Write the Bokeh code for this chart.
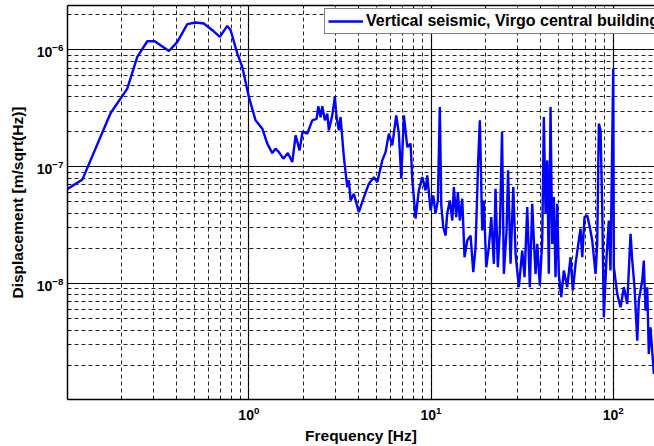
from bokeh.plotting import figure
from bokeh.models import Range1d, LogAxis, Legend, LegendItem
from bokeh.embed import file_html
from bokeh.resources import INLINE

# Frequency [Hz]
freq = [
    0.100, 0.122, 0.174, 0.215, 0.244, 0.277, 0.304, 0.364, 0.405, 0.459,
    0.510, 0.566, 0.630, 0.693, 0.761, 0.794, 0.864, 0.920, 1.000, 1.088,
    1.185, 1.262, 1.344, 1.401, 1.461, 1.545, 1.637, 1.731, 1.805, 1.898,
    1.971, 2.092, 2.228, 2.353, 2.404, 2.475, 2.529, 2.613, 2.693, 2.748,
    2.869, 2.965, 3.029, 3.119, 3.186, 3.322, 3.468, 3.539, 3.616, 3.770,
    4.015, 4.278, 4.557, 4.855, 5.067, 5.398, 5.628, 5.867, 6.124, 6.442,
    6.658, 6.862, 7.092, 7.404, 7.719, 7.886, 8.222, 8.570, 8.950, 9.330,
    9.53, 9.94, 10.28, 10.58, 10.90, 11.17, 11.38, 11.67, 12.01, 12.27,
    12.68, 13.08, 13.34, 13.75, 14.03, 14.39, 14.83, 15.27, 15.80, 16.48,
    17.05, 17.55, 18.16, 18.53, 19.10, 19.49, 20.09, 20.76, 21.40, 22.12,
    22.59, 23.26, 23.86, 24.53, 25.10, 25.97, 26.47, 27.32, 28.27, 29.10,
    30.34, 31.66, 32.60, 33.73, 34.86, 35.93, 36.67, 37.47, 38.28, 39.55,
    40.77, 41.61, 42.51, 43.43, 44.31, 45.28, 46.26, 47.21, 48.23, 49.28,
    50.28, 51.83, 53.56, 55.91, 58.30, 60.02, 62.10, 64.75, 66.15, 67.60,
    69.59, 72.00, 74.40, 76.70, 80.00, 81.70, 83.40, 85.20, 87.00, 88.80,
    91.90, 94.60, 96.60, 100.0, 100.8, 105.2, 109.7, 114.4, 119.4, 124.5,
    127.2, 130.9, 135.5, 138.2, 144.3, 147.2, 150.4, 153.7, 156.8, 160.2, 167.1,
]

# Displacement [m/sqrt(Hz)]
disp = [
    6.40e-8, 7.80e-8, 2.87e-7, 4.67e-7, 8.71e-7, 1.187e-6, 1.187e-6, 9.80e-7, 1.171e-6, 1.661e-6,
    1.717e-6, 1.684e-6, 1.475e-6, 1.292e-6, 1.606e-6, 1.475e-6, 9.31e-7, 7.15e-7, 3.96e-7, 2.497e-7,
    2.12e-7, 1.577e-7, 1.31e-7, 1.429e-7, 1.336e-7, 1.173e-7, 1.31e-7, 1.097e-7, 1.858e-7, 1.382e-7,
    2.011e-7, 1.921e-7, 2.497e-7, 2.573e-7, 3.293e-7, 2.650e-7, 3.293e-7, 2.497e-7, 2.851e-7, 2.051e-7,
    2.757e-7, 3.96e-7, 2.666e-7, 2.051e-7, 2.666e-7, 1.211e-7, 6.70e-8, 7.65e-8, 5.15e-8, 5.88e-8,
    4.09e-8, 5.50e-8, 7.16e-8, 8.16e-8, 7.39e-8, 1.134e-7, 1.336e-7, 1.921e-7, 1.525e-7, 2.757e-7,
    1.921e-7, 7.91e-8, 2.757e-7, 1.475e-7, 1.577e-7, 7.91e-8, 3.61e-8, 6.28e-8, 8.16e-8, 6.28e-8,
    8.44e-8, 4.23e-8, 5.69e-8, 3.99e-8, 5.15e-8, 3.25e-7, 4.67e-8, 3.04e-8, 2.58e-8, 3.99e-8,
    5.15e-8, 3.47e-8, 6.70e-8, 3.71e-8, 6.07e-8, 3.47e-8, 5.33e-8, 1.683e-8, 2.34e-8, 2.58e-8,
    1.252e-8, 2.05e-8, 1.173e-7, 2.497e-7, 2.85e-8, 5.15e-8, 1.382e-8, 2.05e-8, 3.71e-8, 1.478e-8,
    6.49e-8, 1.382e-8, 2.85e-8, 1.983e-7, 1.213e-8, 2.85e-8, 9.32e-8, 1.478e-8, 6.70e-8, 1.80e-8,
    9.32e-9, 1.92e-8, 1.134e-8, 4.52e-8, 9.32e-9, 4.83e-8, 2.34e-8, 1.213e-8, 2.19e-8, 9.63e-9,
    2.34e-8, 2.666e-7, 3.96e-8, 1.134e-7, 1.213e-8, 3.25e-7, 2.19e-8, 5.50e-8, 1.134e-8, 4.83e-8,
    1.213e-8, 7.65e-9, 1.295e-8, 9.32e-9, 1.683e-8, 8.73e-9, 1.478e-8, 2.34e-8, 2.95e-8, 1.683e-8,
    3.71e-8, 3.83e-8, 3.04e-8, 2.34e-8, 1.213e-8, 2.19e-8, 2.34e-7, 2.051e-7, 4.52e-8, 5.15e-9,
    1.683e-8, 3.47e-8, 1.295e-8, 6.93e-7, 1.382e-8, 8.18e-9, 6.28e-9, 9.32e-9, 6.71e-9, 2.67e-8,
    1.578e-8, 9.32e-9, 3.25e-9, 7.17e-9, 1.063e-8, 1.578e-8, 5.88e-9, 9.32e-9, 2.50e-9, 4.23e-9, 1.687e-9,
]

x_limits = [0.101, 168.5]
y_limits = [1.02e-9, 2.4e-6]
series_name = "Vertical seismic, Virgo central building"
x_label = "Frequency [Hz]"
y_label = "Displacement [m/sqrt(Hz)]"

FONT = "Liberation Sans"

p = figure(width=654, height=446, x_axis_type="log", y_axis_type="log",
           x_range=Range1d(*x_limits), y_range=Range1d(*y_limits),
           output_backend="svg", toolbar_location=None,
           min_border_left=67, min_border_top=5, min_border_bottom=47,
           min_border_right=0)
p.outline_line_color = None
p.background_fill_color = "white"
p.border_fill_color = "white"

for ax in (p.xaxis[0], p.yaxis[0]):
    ax.axis_line_width = 1.5
    ax.axis_line_color = "black"
    ax.major_tick_in = 6
    ax.major_tick_out = 0
    ax.minor_tick_in = 3
    ax.minor_tick_out = 0
    ax.major_tick_line_color = "black"
    ax.minor_tick_line_color = "black"
    ax.major_label_text_font = FONT
    ax.major_label_text_font_style = "bold"
    ax.major_label_text_font_size = "14px"
    ax.major_label_text_color = "black"
    ax.axis_label_text_font = FONT
    ax.axis_label_text_font_style = "bold"
    ax.axis_label_text_font_size = "15.5px"
    ax.axis_label_text_color = "black"

p.xaxis.axis_label = x_label
p.yaxis.axis_label = y_label
p.xaxis.major_label_standoff = 6
p.yaxis.major_label_standoff = 4
p.xaxis.axis_label_standoff = 4
p.yaxis.axis_label_standoff = 8

top = LogAxis(major_label_text_font_size="1px", major_label_text_color=None,
              major_label_standoff=0,
              major_tick_in=6, major_tick_out=0, minor_tick_in=3, minor_tick_out=0,
              axis_line_width=1.5, axis_line_color="black")
p.add_layout(top, "above")

for g in (p.xgrid[0], p.ygrid[0]):
    g.grid_line_color = "black"
    g.grid_line_width = 1.2
    g.grid_line_alpha = 0.9
    g.minor_grid_line_color = "black"
    g.minor_grid_line_dash = "4 3"
    g.minor_grid_line_width = 1
    g.minor_grid_line_alpha = 0.85

r = p.line(freq, disp, line_color="#0000ff", line_width=2.4)

legend = Legend(items=[LegendItem(label=series_name, renderers=[r])],
                location=(257, 365), padding=3, spacing=0, margin=0,
                glyph_width=35, glyph_height=18, label_height=18, label_standoff=3,
                label_text_font=FONT, label_text_font_style="bold",
                label_text_font_size="16px", label_text_color="black",
                border_line_color="black", border_line_width=1,
                background_fill_color="white", background_fill_alpha=1)
p.add_layout(legend)

open("out.html", "w").write(file_html(p, INLINE))
